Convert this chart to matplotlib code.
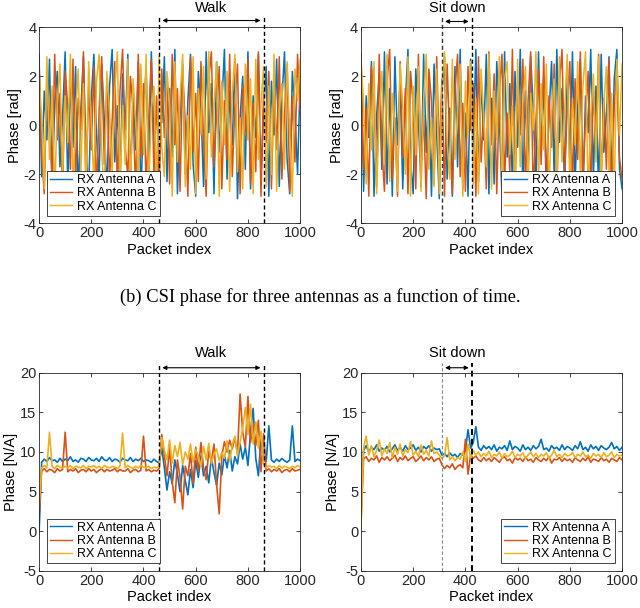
import numpy as np
import matplotlib
matplotlib.use("Agg")
import matplotlib.pyplot as plt

plt.rcParams['font.family'] = ['Liberation Sans', 'DejaVu Sans']
plt.rcParams['axes.unicode_minus'] = False

# packet index, one sample every 10 packets
packet = np.arange(0, 1001, 10)
labels = ["RX Antenna A", "RX Antenna B", "RX Antenna C"]
colors = ["#0072BD", "#D95319", "#EDB120"]

# --- top left: phase [rad], walk ---
phase_walk_a = [2.9, -2.1, 1.4, -0.6, 2.7, -2.8, 0.9, 2.2, -1.7, 0.3,
                3.0, -2.5, 1.8, -0.9, 2.4, -3.0, 0.6, 2.8, -1.2, -2.6,
                1.1, 2.9, -0.4, -2.2, 2.5, 0.2, -2.9, 1.6, 3.1, -1.5,
                0.8, -2.7, 2.1, -0.2, 2.9, -2.4, 1.3, -1.0, 2.6, -2.9,
                0.5, 2.3, -1.9, 3.0, -0.7, -2.6, 1.9, 0.1, 2.8, -2.3,
                1.5, -1.3, 3.1, -2.8, 0.4, 2.5, -2.0, 1.0, 2.9, -1.6,
                -2.9, 2.2, 0.7, -2.5, 3.0, -0.3, 1.7, -2.8, 2.6, -1.1,
                0.9, 3.1, -2.2, 1.4, -0.8, 2.7, -3.0, 0.3, 2.0, -1.8,
                3.0, -2.6, 1.2, -0.5, 2.9, -2.1, 0.6, 2.4, -2.9, 1.8,
                -0.4, 2.7, -2.5, 1.0, 3.0, -1.4, -2.8, 2.2, 0.5, -2.0, 1.9]
phase_walk_b = [2.5, -1.2, -2.8, 1.9, 0.4, -2.2, 2.9, -0.6, 1.3, -2.9,
                2.2, 0.8, -1.8, 2.7, -2.4, 1.1, -0.2, 3.0, -2.6, 1.6,
                -1.0, 2.4, -2.9, 0.6, 2.8, -1.6, 1.9, -2.3, 0.2, 2.6,
                -2.7, 1.4, 3.1, -0.9, -2.1, 2.0, 0.7, -2.8, 2.9, -1.3,
                1.7, -2.5, 0.3, 2.7, -2.0, 1.2, -2.9, 2.3, -0.5, 1.8,
                -2.4, 2.9, -0.8, 1.5, -2.7, 2.2, 0.1, -2.9, 2.8, -1.1,
                1.3, -2.3, 2.6, -0.6, -2.9, 1.9, 3.0, -1.7, 0.5, 2.4,
                -2.6, 1.0, -1.4, 2.9, -2.1, 0.8, 2.5, -2.8, 1.6, -0.3,
                2.7, -2.4, 0.9, -1.9, 3.0, -2.9, 1.4, -0.7, 2.2, -2.6,
                1.7, -1.0, 2.8, -2.2, 0.4, 2.5, -2.7, 1.2, -1.5, 2.9, 0.6]
phase_walk_c = [2.1, 0.3, -2.6, 2.8, -1.4, 1.6, -2.9, 0.9, 2.5, -2.0,
                1.2, -0.7, 2.9, -2.7, 0.5, 2.3, -1.9, 1.7, -2.8, 2.6,
                0.1, -2.4, 1.8, 2.9, -1.1, -2.8, 2.2, 0.6, -2.0, 1.4,
                3.0, -2.5, 0.8, -1.6, 2.7, -2.9, 1.9, 0.2, -2.3, 2.5,
                -1.2, 2.9, -2.6, 0.7, 1.6, -2.8, 2.8, -0.9, -2.1, 2.2,
                0.9, -2.9, 2.6, -1.5, 1.1, 2.9, -2.5, 0.4, -1.8, 2.8,
                -2.8, 1.5, -0.4, 2.4, -2.2, 3.0, -1.3, 0.7, 2.6, -2.9,
                1.8, -0.8, 2.2, -2.7, 1.3, 2.9, -1.9, 0.3, -2.6, 2.5,
                -0.6, 1.9, -2.8, 2.7, -1.4, 0.9, 2.4, -2.5, 1.6, -2.0,
                2.9, -2.7, 0.6, 1.7, -1.8, 2.6, -0.3, -2.9, 2.3, 1.0, 2.7]

# --- top right: phase [rad], sit down ---
phase_sit_a = [2.9, -2.7, 1.2, -0.5, 2.6, -2.9, 0.4, 2.1, -1.8, 3.0,
               -2.4, 1.5, -2.9, 2.8, -0.8, 1.9, -2.6, 0.9, 3.1, -1.5,
               -2.8, 2.3, 0.2, -2.5, 2.9, -1.1, 1.6, -2.9, 2.5, -0.4,
               -3.0, 1.3, 2.8, -2.2, 0.7, -2.9, 2.4, -1.7, 3.1, -2.6,
               0.5, -2.9, 2.7, -1.0, 3.1, -2.3, 1.8, -0.6, 2.9, -2.8,
               1.1, -2.4, 2.6, 0.3, -2.9, 3.0, -1.3, 1.7, -2.6, 2.2,
               -0.9, 3.1, -2.7, 1.4, -1.9, 2.8, 0.6, -2.5, 3.0, -1.2,
               1.9, -2.9, 0.4, 2.6, -2.1, 3.1, -0.7, 1.5, -2.8, 2.4,
               -1.6, 3.0, -2.4, 0.8, 2.7, -2.9, 1.2, -0.3, 3.1, -2.2,
               1.6, -2.7, 2.9, -1.1, 0.5, 2.8, -2.5, 1.9, 3.1, -1.8, -2.6]
phase_sit_b = [2.6, -1.8, 0.7, -2.9, 2.4, 1.1, -2.5, 2.9, -0.9, -2.7,
               1.8, 3.1, -2.2, 0.3, -2.9, 2.6, -1.3, 1.5, -2.8, 2.2,
               0.8, -2.6, 2.9, -1.7, 0.4, -3.0, 2.3, 1.0, -2.4, 2.8,
               -1.2, 1.9, -2.9, 2.5, -0.6, -2.8, 1.4, 2.9, -2.1, 0.9,
               -2.7, 2.4, -0.2, 1.7, -2.9, 2.8, -1.5, 0.6, -2.6, 3.0,
               -0.8, 2.1, -2.8, 1.3, 2.9, -2.3, 0.5, -1.9, 3.1, -2.7,
               1.6, -0.4, 2.7, -2.5, 1.0, 3.0, -2.9, 0.2, 2.3, -1.6,
               2.8, -2.6, 1.2, -0.9, 2.5, -2.9, 1.7, 3.1, -2.0, 0.7,
               2.6, -2.8, 1.9, -1.4, 3.0, -2.4, 0.3, 2.2, -2.7, 1.5,
               -0.7, 2.9, -2.3, 1.1, -1.8, 2.7, -2.9, 0.8, 2.4, -1.3, -2.2]
phase_sit_c = [2.8, 0.9, -2.4, 1.7, -1.0, 2.6, -2.8, 0.5, 2.2, -1.6,
               2.9, -2.3, 1.3, -0.3, -2.7, 2.5, 0.8, -2.0, 2.8, -2.9,
               1.6, -1.2, 2.4, -2.7, 1.0, 2.9, -1.8, 0.3, -2.5, 2.3,
               -2.8, 1.5, 3.0, -0.7, -2.2, 2.7, -1.4, 0.6, 2.5, -2.9,
               1.8, -0.5, 2.6, -2.4, 1.1, -2.8, 2.3, 0.4, -1.7, 2.9,
               -2.6, 1.4, -0.6, 2.8, -2.9, 1.9, 2.6, -1.2, 0.8, -2.8,
               2.7, -1.7, 0.9, 2.4, -2.6, 1.3, -0.2, 3.0, -2.3, 1.7,
               -1.0, 2.5, -2.9, 0.5, 1.9, -2.4, 2.8, -1.5, 0.6, 2.9,
               -2.7, 1.1, -0.8, 2.6, -2.2, 1.6, 3.0, -2.9, 0.4, 2.1,
               -1.5, 2.8, -2.6, 0.9, 2.4, -2.0, 1.3, -2.8, 2.7, -0.4, 2.5]

# --- bottom left: phase [N/A], walk ---
na_walk_a = [-0.3, 8.7, 9.1, 8.8, 9.3, 8.9, 9.0, 8.7, 9.2, 8.8,
             9.1, 8.9, 9.4, 8.8, 9.0, 8.7, 9.2, 9.1, 8.8, 9.3,
             9.0, 8.9, 9.2, 8.8, 9.4, 9.0, 8.9, 9.3, 8.8, 9.1,
             9.0, 8.7, 9.2, 9.0, 8.9, 9.3, 8.8, 9.1, 8.9, 9.2,
             8.8, 9.0, 8.9, 8.7, 9.1, 8.8, 8.6, 10.5, 8.0, 5.2,
             7.5, 6.0, 9.0, 7.2, 5.0, 8.3, 6.4, 4.6, 7.8, 5.5,
             8.9, 6.8, 9.5, 7.0, 8.2, 6.1, 9.3, 7.4, 5.8, 8.6,
             7.1, 9.6, 8.0, 10.2, 7.6, 9.4, 8.5, 11.0, 9.1, 10.6,
             8.3, 12.4, 15.5, 9.2, 7.0, 11.8, 8.9, 8.8, 13.3, 9.0,
             8.7, 9.1, 8.8, 9.2, 8.9, 8.7, 9.0, 13.3, 8.8, 9.1, 8.9]
na_walk_b = [2.0, 7.6, 7.9, 7.5, 7.8, 7.7, 7.4, 7.9, 7.6, 7.8,
             12.5, 7.5, 7.8, 7.6, 7.9, 7.4, 7.7, 7.8, 7.5, 7.9,
             7.6, 7.8, 7.4, 7.7, 7.9, 7.5, 7.8, 7.6, 7.7, 7.9,
             7.5, 7.8, 7.6, 7.6, 7.9, 7.4, 7.7, 7.8, 7.5, 7.7,
             12.0, 7.6, 7.8, 7.5, 7.7, 7.6, 7.9, 12.2, 9.5, 7.0,
             10.5, 6.2, 3.6, 9.0, 6.8, 2.8, 8.2, 7.0, 9.8, 6.0,
             10.6, 7.5, 11.2, 8.0, 6.5, 10.1, 8.8, 11.0, 5.9, 2.2,
             9.5, 11.3, 10.0, 11.5, 10.4, 11.8, 9.8, 17.3, 12.5, 10.6,
             17.0, 11.2, 13.5, 10.8, 14.0, 7.5, 12.3, 7.6, 7.9, 7.5,
             7.8, 7.6, 7.9, 7.4, 7.7, 7.8, 7.5, 7.9, 7.6, 7.7, 7.8]
na_walk_c = [3.0, 8.0, 8.3, 8.0, 12.5, 8.2, 7.9, 8.3, 8.1, 8.0,
             8.2, 8.0, 8.3, 7.9, 8.2, 8.1, 8.0, 8.3, 7.9, 8.2,
             8.1, 8.3, 8.0, 8.2, 7.9, 8.3, 8.1, 8.0, 8.2, 8.1,
             7.9, 8.2, 12.4, 8.0, 8.3, 8.1, 7.9, 8.2, 8.0, 8.3,
             8.1, 8.0, 8.2, 7.9, 8.1, 8.0, 8.2, 11.8, 10.2, 9.0,
             11.5, 8.6, 10.8, 9.4, 11.2, 8.4, 10.0, 9.1, 11.0, 8.7,
             10.3, 9.5, 8.2, 10.7, 9.0, 11.1, 8.5, 9.8, 10.4, 8.9,
             10.0, 9.2, 11.4, 8.8, 10.9, 12.0, 9.5, 11.3, 13.0, 15.6,
             12.2, 16.0, 11.0, 13.8, 10.5, 12.6, 8.5, 8.0, 8.3, 8.1,
             8.2, 7.9, 8.3, 8.0, 8.2, 8.1, 7.9, 8.2, 8.0, 8.3, 8.1]

# --- bottom right: phase [N/A], sit down ---
na_sit_a = [3.5, 10.2, 10.8, 10.0, 10.6, 10.3, 10.9, 10.1, 10.5, 10.2,
            10.7, 10.0, 10.4, 10.9, 10.2, 10.6, 10.1, 10.8, 10.3, 10.5,
            10.9, 10.2, 10.6, 10.0, 10.7, 10.4, 10.8, 10.1, 10.5, 10.3,
            10.4, 9.6, 9.8, 9.4, 9.9, 9.5, 9.7, 9.3, 9.8, 9.6,
            10.2, 12.8, 10.5, 11.2, 13.2, 10.6, 10.2, 10.8, 10.4, 10.7,
            10.3, 10.9, 10.1, 10.6, 10.4, 10.8, 10.2, 11.4, 10.3, 10.7,
            10.5, 10.1, 10.9, 10.3, 10.6, 10.2, 10.8, 10.4, 10.7, 11.6,
            10.3, 10.5, 10.1, 10.8, 10.4, 10.6, 10.2, 10.9, 10.3, 10.7,
            10.5, 10.2, 10.8, 10.4, 11.3, 10.3, 10.6, 10.1, 10.9, 10.4,
            10.7, 10.2, 10.8, 10.5, 10.3, 10.6, 11.2, 10.4, 10.7, 10.2, 10.6]
na_sit_b = [1.0, 9.1, 9.4, 8.8, 9.2, 9.0, 9.5, 8.7, 9.3, 9.0,
            9.4, 8.9, 9.2, 9.6, 8.8, 9.3, 9.0, 9.5, 8.9, 9.2,
            9.4, 8.8, 9.1, 9.5, 8.9, 9.3, 9.0, 9.4, 8.8, 9.1,
            9.2, 8.4, 7.9, 8.3, 8.0, 8.5, 7.8, 8.2, 8.4, 8.0,
            11.6, 7.2, 9.6, 9.2, 9.5, 9.0, 8.8, 9.3, 8.9, 9.2,
            8.8, 9.3, 9.0, 8.7, 9.2, 9.4, 8.9, 9.1, 8.6, 9.3,
            9.0, 9.2, 8.8, 9.4, 8.9, 9.1, 8.7, 9.3, 9.0, 8.8,
            9.2, 8.9, 9.4, 8.6, 9.1, 9.0, 9.3, 8.8, 9.2, 8.9,
            9.1, 8.7, 9.3, 9.0, 8.8, 9.2, 8.9, 9.4, 8.7, 9.1,
            9.0, 8.8, 9.3, 8.9, 9.1, 8.7, 9.2, 9.0, 8.8, 9.3, 9.0]
na_sit_c = [0.3, 10.5, 12.0, 9.6, 10.8, 9.4, 10.2, 11.5, 9.5, 10.4,
            9.8, 11.2, 9.3, 10.6, 9.7, 11.0, 9.5, 10.3, 9.9, 11.3,
            9.6, 10.1, 9.4, 10.9, 9.7, 10.2, 9.5, 11.4, 9.8, 10.0,
            9.6, 9.2, 9.5, 11.8, 9.0, 9.4, 8.9, 9.3, 9.1, 10.0,
            8.8, 11.0, 9.3, 10.2, 9.6, 10.0, 9.4, 9.8, 9.5, 10.1,
            9.3, 9.7, 9.5, 10.0, 9.2, 9.8, 9.4, 9.6, 10.1, 9.3,
            9.7, 9.5, 9.9, 9.2, 9.6, 10.0, 9.4, 9.8, 9.3, 9.7,
            9.5, 9.9, 9.2, 9.6, 10.2, 9.4, 9.7, 9.3, 9.8, 9.5,
            9.6, 9.9, 9.3, 9.7, 9.5, 10.0, 9.4, 9.6, 9.2, 9.8,
            9.5, 9.7, 9.3, 9.9, 9.4, 9.6, 10.0, 9.3, 9.7, 9.5, 9.6]

walk_span = [460, 860]
sit_span = [310, 425]

fig = plt.figure(figsize=(6.4, 6.08), dpi=100)
ax_tl = fig.add_axes([0.061, 0.633, 0.408, 0.322])
ax_tr = fig.add_axes([0.564, 0.633, 0.408, 0.322])
ax_bl = fig.add_axes([0.061, 0.061, 0.408, 0.326])
ax_br = fig.add_axes([0.564, 0.061, 0.408, 0.326])

panels = [
    (ax_tl, [phase_walk_a, phase_walk_b, phase_walk_c], (-4, 4), [-4, -2, 0, 2, 4], "Phase [rad]", "lower left", 1.1),
    (ax_tr, [phase_sit_a, phase_sit_b, phase_sit_c], (-4, 4), [-4, -2, 0, 2, 4], "Phase [rad]", "lower right", 1.1),
    (ax_bl, [na_walk_a, na_walk_b, na_walk_c], (-5, 20), [-5, 0, 5, 10, 15, 20], "Phase [N/A]", "lower left", 1.2),
    (ax_br, [na_sit_a, na_sit_b, na_sit_c], (-5, 20), [-5, 0, 5, 10, 15, 20], "Phase [N/A]", "lower right", 1.2),
]

for ax, series, ylim, yticks, ylab, loc, lw in panels:
    for y, c, lab in zip(series, colors, labels):
        ax.plot(packet, y, color=c, lw=lw, label=lab)
    ax.set_xlim(0, 1000)
    ax.set_ylim(*ylim)
    ax.set_yticks(yticks)
    ax.set_xticks([0, 200, 400, 600, 800, 1000])
    ax.set_xlabel("Packet index", fontsize=10.5, labelpad=2)
    ax.set_ylabel(ylab, fontsize=10.5, labelpad=1)
    ax.tick_params(direction="in", length=3, labelsize=10.5, pad=2, top=True, right=True,
                   colors="#262626", width=0.6)
    for s in ax.spines.values():
        s.set_color("#262626")
        s.set_linewidth(0.6)
    leg = ax.legend(loc=loc, fontsize=9, frameon=True, fancybox=False, framealpha=1,
                    edgecolor="#262626", borderpad=0.25, labelspacing=0.1,
                    handlelength=1.8, handletextpad=0.4, borderaxespad=0.6)
    leg.get_frame().set_linewidth(0.6)
    for h in leg.get_lines():
        h.set_linewidth(1.0)


def mark_event(ax, span, text, top, arrow_y, text_y, colors_ls):
    tr = ax.get_xaxis_transform()
    for x, (col, lw) in zip(span, colors_ls):
        ax.plot([x, x], [0, top], transform=tr, color=col, lw=lw, ls=(0, (3, 2)), clip_on=False)
    ax.annotate("", xy=(span[1] - 12, arrow_y), xytext=(span[0] + 12, arrow_y), xycoords=tr, textcoords=tr,
                arrowprops=dict(arrowstyle="<|-|>", color="black", lw=0.8, mutation_scale=6, shrinkA=0, shrinkB=0))
    ax.text((span[0] + span[1]) / 2, text_y, text, transform=tr, ha="center", va="center", fontsize=10.5)


mark_event(ax_tl, walk_span, "Walk", 1.06, 1.035, 1.10, [("black", 1.0), ("black", 1.0)])
mark_event(ax_tr, sit_span, "Sit down", 1.06, 1.03, 1.10, [("#333333", 1.0), ("black", 1.0)])
mark_event(ax_bl, walk_span, "Walk", 1.05, 1.025, 1.10, [("black", 1.0), ("black", 1.0)])
mark_event(ax_br, sit_span, "Sit down", 1.05, 1.025, 1.10, [("#888888", 0.8), ("black", 1.4)])

fig.text(0.5, 0.511, "(b) CSI phase for three antennas as a function of time.",
         ha="center", va="center", fontsize=13.3, family="Liberation Serif")

fig.savefig("out.png", dpi=100)
